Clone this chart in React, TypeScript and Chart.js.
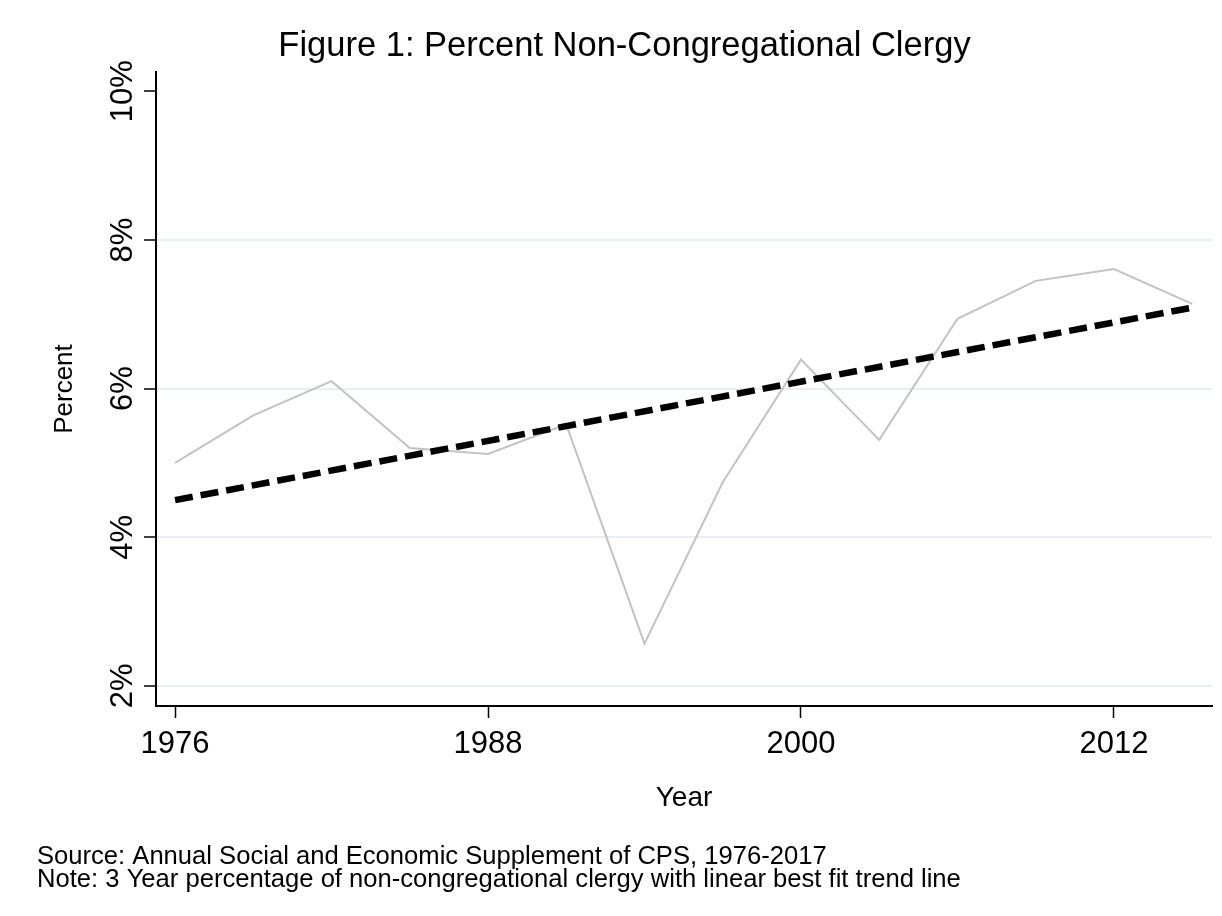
import React, { useEffect, useRef } from "react";
import { Chart, registerables } from "chart.js";

Chart.register(...registerables);

// ---- Data ----
const years = [1976, 1979, 1982, 1985, 1988, 1991, 1994, 1997, 2000, 2003, 2006, 2009, 2012, 2015];
const percentNonCongregational = [5.0, 5.64, 6.1, 5.2, 5.12, 5.52, 2.57, 4.74, 6.39, 5.31, 6.94, 7.45, 7.61, 7.14];
const trendYears = [1976, 2015];
const trendValues = [4.5, 7.09];
const xTickValues = [1976, 1988, 2000, 2012];
const yTickValues = [2, 4, 6, 8, 10];
const titleText = "Figure 1: Percent Non-Congregational Clergy";
const xAxisTitle = "Year";
const yAxisTitle = "Percent";
const noteLines = [
  "Source: Annual Social and Economic Supplement of CPS, 1976-2017",
  "Note: 3 Year percentage of non-congregational clergy with linear best fit trend line",
];

const FONT = "'Liberation Sans', Arial, Helvetica, sans-serif";

export default function App() {
  const canvasRef = useRef<HTMLCanvasElement | null>(null);

  useEffect(() => {
    const canvas = canvasRef.current;
    if (!canvas) return;

    const chart = new Chart(canvas, {
      type: "line",
      data: {
        datasets: [
          {
            label: "Linear fit",
            data: trendYears.map((x, i) => ({ x, y: trendValues[i] })),
            borderColor: "#000000",
            borderWidth: 6.5,
            borderDash: [18, 8],
            borderCapStyle: "butt",
            pointRadius: 0,
            fill: false,
            tension: 0,
          },
          {
            label: "Percent non-congregational",
            data: years.map((x, i) => ({ x, y: percentNonCongregational[i] })),
            borderColor: "#c3c3c3",
            borderWidth: 2,
            pointRadius: 0,
            fill: false,
            tension: 0,
          },
        ],
      },
      options: {
        responsive: false,
        animation: false,
        devicePixelRatio: 1,
        layout: { padding: { top: 20, left: 37, right: 10, bottom: 0 } },
        plugins: {
          legend: { display: false },
          tooltip: { enabled: false },
          title: {
            display: true,
            text: titleText,
            color: "#000000",
            font: { family: FONT, size: 34.5, weight: "normal", lineHeight: 1.2 },
            padding: { top: 5.4, bottom: 5.2 },
          },
          subtitle: {
            display: true,
            position: "bottom",
            align: "start",
            text: noteLines,
            color: "#000000",
            font: { family: FONT, size: 25.6, weight: "normal", lineHeight: 23 / 25.6 },
            padding: { top: 15.5, bottom: 24.5 },
          },
        },
        scales: {
          x: {
            type: "linear",
            min: 1975.27,
            max: 2015.76,
            afterBuildTicks: (scale: any) => {
              scale.ticks = xTickValues.map((v) => ({ value: v }));
            },
            afterFit: (scale: any) => {
              scale.height = 124;
            },
            ticks: {
              color: "#000000",
              font: { family: FONT, size: 31 },
              padding: 8.1,
              maxRotation: 0,
              autoSkip: false,
              callback: (v: any) => String(v),
            },
            grid: {
              drawOnChartArea: false,
              tickLength: 12,
              tickColor: "#000000",
              tickWidth: 1.5,
            },
            border: { display: true, color: "#000000", width: 2 },
            title: {
              display: true,
              text: xAxisTitle,
              color: "#000000",
              font: { family: FONT, size: 28, lineHeight: 1.2 },
              padding: { top: 0, bottom: 15.2 },
            },
          },
          y: {
            type: "linear",
            min: 1.73,
            max: 10.26,
            afterBuildTicks: (scale: any) => {
              scale.ticks = yTickValues.map((v) => ({ value: v }));
            },
            afterFit: (scale: any) => {
              scale.width = 119;
            },
            ticks: {
              color: "#000000",
              font: { family: FONT, size: 31 },
              minRotation: 90,
              maxRotation: 90,
              crossAlign: "center",
              padding: -10.4,
              autoSkip: false,
              callback: (v: any) => v + "%",
            },
            grid: {
              color: (ctx: any) => (ctx.tick && ctx.tick.value === 10 ? "rgba(0,0,0,0)" : "#e6eff2"),
              lineWidth: 2,
              tickLength: 12,
              tickColor: "#000000",
              tickWidth: 1.5,
            },
            border: { display: true, color: "#000000", width: 2 },
            title: {
              display: true,
              text: yAxisTitle,
              color: "#000000",
              font: { family: FONT, size: 26, lineHeight: 1.2 },
              padding: { top: 12.6, bottom: 0 },
            },
          },
        },
      } as any,
    });

    return () => {
      chart.destroy();
    };
  }, []);

  return (
    <div style={{ position: "absolute", left: 0, top: 0, width: 1222, height: 916, background: "#ffffff" }}>
      <canvas ref={canvasRef} width={1222} height={916} style={{ display: "block" }} />
    </div>
  );
}
